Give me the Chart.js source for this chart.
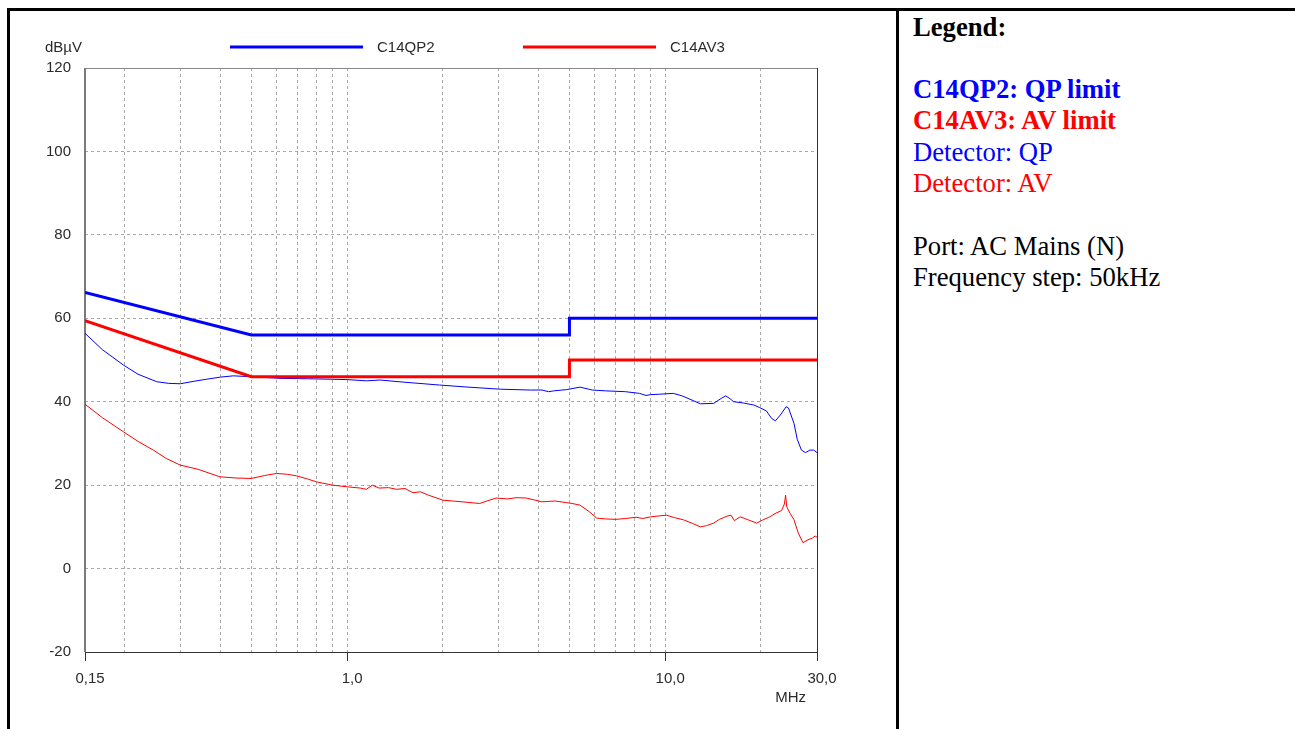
<!DOCTYPE html>
<html><head><meta charset="utf-8">
<script src="https://cdn.jsdelivr.net/npm/chart.js@4/dist/chart.umd.min.js"></script>
<style>
html,body{margin:0;padding:0;background:#fff;}
#page{position:relative;width:1295px;height:729px;overflow:hidden;}
#chartBox{position:absolute;left:0;top:0;width:897px;height:729px;}
.rule{position:absolute;background:#000;}
#notes{position:absolute;left:913px;top:11.5px;font-family:"Liberation Serif","Times New Roman",serif;font-size:26.67px;line-height:31.3px;color:#000;white-space:nowrap;}
#notes .b{font-weight:bold;}
</style></head>
<body>
<div id="page">
<div id="chartBox"><canvas id="chart" width="897" height="729"></canvas></div>
<div class="rule" style="left:7px;top:8px;width:1288px;height:3px"></div>
<div class="rule" style="left:7px;top:8px;width:3px;height:721px"></div>
<div class="rule" style="left:896px;top:8px;width:3px;height:721px"></div>
<div id="notes">
<div class="b">Legend:</div>
<div>&nbsp;</div>
<div class="b" style="color:#0000ff">C14QP2: QP limit</div>
<div class="b" style="color:#ff0000">C14AV3: AV limit</div>
<div style="color:#0000ff">Detector: QP</div>
<div style="color:#ff0000">Detector: AV</div>
<div>&nbsp;</div>
<div>Port: AC Mains (N)</div>
<div>Frequency step: 50kHz</div>
</div>
</div>
<script>
// ---- data (frequency in MHz, level in dBµV) ----
const qpLimitFreq  = [0.15, 0.5, 5, 5, 30];
const qpLimitLevel = [66.2, 56, 56, 60, 60];
const avLimitFreq  = [0.15, 0.5, 5, 5, 30];
const avLimitLevel = [59.4, 46, 46, 50, 50];

const qpFreq  = [0.15,0.17,0.198,0.22,0.252,0.275,0.299,0.33,0.362,0.40,0.439,0.5,0.615,0.75,0.884,1.0,1.15,1.27,1.5,1.95,2.4,3.03,3.77,4.1,4.3,4.46,4.9,5.4,5.9,6.5,7.5,8.3,8.7,9.0,9.6,10.6,11.3,12.3,12.9,14.2,15.0,15.5,16.0,16.4,17.6,19.0,19.8,20.8,21.6,22.2,23.0,24.0,24.4,25.4,26.0,26.8,27.6,28.5,29.3,30];
const qpLevel = [56.4,52.5,48.8,46.6,44.8,44.4,44.3,44.9,45.4,45.9,46.2,46.0,45.6,45.5,45.4,45.3,45.0,45.2,44.7,44.0,43.5,43.0,42.8,42.8,42.4,42.6,42.9,43.5,42.8,42.6,42.4,42.0,41.5,41.7,41.8,42.0,41.4,40.2,39.5,39.6,40.8,41.4,40.7,40.0,39.7,39.2,38.6,37.8,36.0,35.4,36.8,38.8,38.5,34.8,31.0,28.4,27.8,28.4,28.4,27.8];

const avFreq  = [0.15,0.17,0.198,0.22,0.246,0.27,0.299,0.34,0.398,0.45,0.5,0.55,0.60,0.65,0.695,0.75,0.80,0.9,1.0,1.1,1.15,1.2,1.26,1.35,1.43,1.52,1.61,1.7,1.8,2.0,2.3,2.61,2.75,2.94,3.2,3.4,3.66,3.9,4.1,4.5,4.9,5.1,5.4,5.8,6.09,6.5,7.0,7.5,8.1,8.5,9.0,9.5,10.1,10.7,11.4,12.2,12.9,13.5,14.2,14.8,15.7,16.1,16.5,17.2,17.8,18.2,19.4,20.2,21.3,22.3,23.2,23.7,23.9,24.1,24.7,25.4,26.2,27.1,28.1,29.0,29.6,30];
const avLevel = [39.4,36.2,32.8,30.5,28.4,26.4,24.8,23.8,22.0,21.7,21.6,22.3,22.8,22.6,22.2,21.5,20.8,20.0,19.6,19.3,19.0,20.0,19.3,19.4,19.0,19.2,18.2,18.4,17.6,16.4,16.0,15.6,16.2,16.9,16.7,17.0,16.9,16.4,16.0,16.2,15.8,15.6,15.2,13.5,12.1,11.9,11.8,12.0,12.3,12.0,12.4,12.6,12.8,12.2,11.7,10.8,10.0,10.3,10.9,11.8,12.6,12.8,11.5,12.4,12.0,11.7,10.9,11.6,12.4,13.3,13.9,15.5,17.6,14.8,13.2,11.7,8.5,6.2,6.9,7.3,7.8,7.5];

const seriesLabels = ['C14QP2', 'C14AV3', 'Detector: QP', 'Detector: AV'];
const xGridFreqs  = [0.15,0.2,0.3,0.4,0.5,0.6,0.7,0.8,0.9,1,2,3,4,5,6,7,8,9,10,20,30];
const xLabelFreqs = [0.15, 1, 10, 30];
const xTickLabels = ['0,15', '1,0', '10,0', '30,0'];
const yTickValues = [-20, 0, 20, 40, 60, 80, 100, 120];
const yUnit = 'dBµV';
const xUnit = 'MHz';

// ---- drawing ----
const pts = (f, l) => f.map((v, i) => ({x: v, y: l[i]}));
const FONT = '"Liberation Sans", Arial, sans-serif';
const TEXT = '#2a2a2a';

const framePlugin = {
  id: 'frame',
  beforeDatasetsDraw(chart) {
    const {ctx, chartArea: a} = chart;
    const L = Math.round(a.left), R = Math.round(a.right), T = Math.round(a.top), B = Math.round(a.bottom);
    ctx.save();
    ctx.setLineDash([]);
    ctx.lineWidth = 1;
    ctx.strokeStyle = '#8a8a8a';
    ctx.beginPath(); ctx.moveTo(L, T + 0.5); ctx.lineTo(R, T + 0.5); ctx.stroke();
    ctx.lineWidth = 2;
    ctx.strokeStyle = '#7a7a7a';
    ctx.beginPath(); ctx.moveTo(L, T); ctx.lineTo(L, B); ctx.stroke();
    ctx.lineWidth = 1;
    ctx.strokeStyle = '#333333';
    ctx.beginPath(); ctx.moveTo(R + 0.5, T); ctx.lineTo(R + 0.5, B); ctx.stroke();
    ctx.beginPath(); ctx.moveTo(L, B + 0.5); ctx.lineTo(R + 1, B + 0.5); ctx.stroke();
    ctx.restore();
  }
};

const textPlugin = {
  id: 'texts',
  afterDraw(chart) {
    const {ctx, chartArea: a} = chart;
    ctx.save();
    ctx.font = '15px ' + FONT;
    ctx.fillStyle = TEXT;
    ctx.textBaseline = 'middle';
    ctx.textAlign = 'left';
    ctx.fillText(yUnit, 45, 48);
    ctx.textAlign = 'right';
    ctx.fillText(xUnit, a.right - 11, 698);
    // top legend for the two limit lines
    const items = [{x: 230, tx: 377}, {x: 523, tx: 670}];
    items.forEach((it, i) => {
      const ds = chart.data.datasets[i];
      ctx.strokeStyle = ds.borderColor;
      ctx.lineWidth = 3;
      ctx.beginPath(); ctx.moveTo(it.x, 47); ctx.lineTo(it.x + 133, 47); ctx.stroke();
      ctx.textAlign = 'left';
      ctx.fillStyle = TEXT;
      ctx.fillText(ds.label, it.tx, 48);
    });
    ctx.restore();
  }
};

new Chart(document.getElementById('chart'), {
  type: 'line',
  data: {
    datasets: [
      {label: seriesLabels[0], data: pts(qpLimitFreq, qpLimitLevel), borderColor: '#0000ff', borderWidth: 3},
      {label: seriesLabels[1], data: pts(avLimitFreq, avLimitLevel), borderColor: '#ff0000', borderWidth: 3},
      {label: seriesLabels[2], data: pts(qpFreq, qpLevel), borderColor: '#0000ff', borderWidth: 1},
      {label: seriesLabels[3], data: pts(avFreq, avLevel), borderColor: '#ff0000', borderWidth: 1}
    ]
  },
  options: {
    responsive: false,
    animation: false,
    events: [],
    elements: {point: {radius: 0}, line: {tension: 0, fill: false, borderJoinStyle: 'miter'}},
    layout: {padding: {top: 68, right: 80, left: 0, bottom: 0}},
    plugins: {legend: {display: false}, tooltip: {enabled: false}, title: {display: false}},
    scales: {
      x: {
        type: 'logarithmic', min: 0.15, max: 30, position: 'bottom',
        afterBuildTicks: (axis) => { axis.ticks = xGridFreqs.map(v => ({value: v})); },
        afterFit: (axis) => { axis.height = 77; },
        ticks: {
          autoSkip: false, maxRotation: 0, minRotation: 0, labelOffset: 5, padding: 9,
          color: TEXT, font: {family: FONT, size: 15},
          callback: (v) => { const i = xLabelFreqs.indexOf(v); return i >= 0 ? xTickLabels[i] : ''; }
        },
        grid: {
          color: '#a8a8a8', lineWidth: 1, tickLength: 9,
          tickColor: (c) => (c.tick && xLabelFreqs.includes(c.tick.value)) ? '#333333' : 'rgba(0,0,0,0)'
        },
        border: {display: false, dash: [3, 3]}
      },
      y: {
        min: -20, max: 120,
        afterBuildTicks: (axis) => { axis.ticks = yTickValues.map(v => ({value: v})); },
        afterFit: (axis) => { axis.width = 85; },
        ticks: {padding: 14, color: TEXT, font: {family: FONT, size: 15}, callback: (v) => String(v)},
        grid: {color: '#a8a8a8', lineWidth: 1, drawTicks: false},
        border: {display: false, dash: [3, 3]}
      }
    }
  },
  plugins: [framePlugin, textPlugin]
});
</script>
</body></html>
